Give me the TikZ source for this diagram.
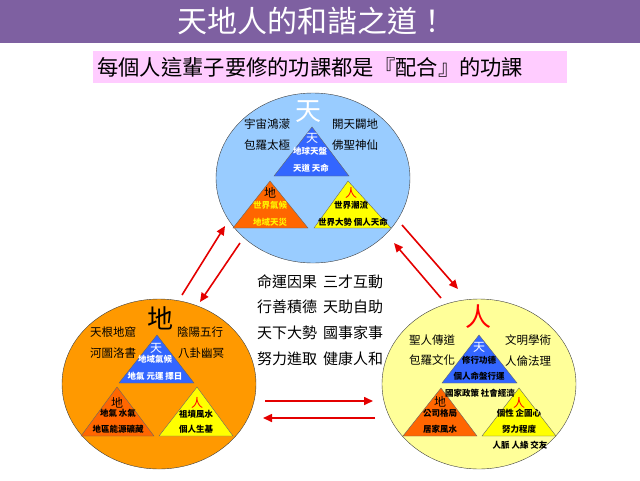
\documentclass[tikz,border=0pt]{standalone}
\usepackage{fontspec}
\setmainfont{Noto Sans CJK TC}
\usetikzlibrary{arrows.meta, shapes.geometric}

\definecolor{titlebar}{RGB}{126,96,161}
\definecolor{subbox}{RGB}{255,204,255}
\definecolor{skyblue}{RGB}{153,204,255}
\definecolor{earthorange}{RGB}{255,153,0}
\definecolor{manyellow}{RGB}{255,255,153}
\definecolor{triblue}{RGB}{51,102,255}
\definecolor{triorange}{RGB}{255,102,0}
\definecolor{triyellow}{RGB}{255,255,0}
\definecolor{arrowred}{RGB}{228,0,0}

\tikzset{
  realm/.style={ellipse, draw=black!75, thin, minimum width=194pt,
    minimum height=170pt, inner sep=0pt},
  tri/.style={draw=black!60, thin},
  bigchar/.style={font=\fontsize{26}{28}\selectfont, inner sep=0pt},
  sidetext/.style={font=\fontsize{11.5}{12}\selectfont, inner sep=0pt},
  trichar/.style={font=\fontsize{12}{12}\selectfont, inner sep=0pt},
  tritext/.style={font=\bfseries\fontsize{8.5}{9}\selectfont, inner sep=0pt},
  centertext/.style={font=\fontsize{15}{16}\selectfont, inner sep=0pt},
  pairarrow/.style={draw=arrowred, line width=1.6pt,
    -{Triangle[length=9pt,width=8pt]}},
}

\begin{document}
\begin{tikzpicture}[x=1pt,y=-1pt]
\useasboundingbox (0,0) rectangle (640,480);

% Title bar and subtitle
\fill[titlebar] (0,0) rectangle (640,43);
\node[text=white, font=\fontsize{30}{32}\selectfont, inner sep=0pt]
  (title) at (312,21) {天地人的和諧之道！};
\fill[subbox] (93,51) rectangle (567,83);
\node[anchor=west, font=\fontsize{21.3}{22}\selectfont, inner sep=0pt]
  (subtitle) at (97,67) {每個人這輩子要修的功課都是『配合』的功課};

% The three realms
\node[realm, fill=skyblue] (tian) at (313,178) {};
\node[realm, fill=earthorange] (di) at (159,384) {};
\node[realm, fill=manyellow] (ren) at (479,384) {};

% Heaven
\begin{scope}[shift={(tian.center)}]
\node[bigchar, text=white] (tianBig) at (-5,-66) {天};
\node[sidetext] (tianA) at (-46,-54) {宇宙鴻濛};
\node[sidetext] (tianB) at (-46,-33) {包羅太極};
\node[sidetext] (tianC) at (42,-54) {開天闢地};
\node[sidetext] (tianD) at (42,-33) {佛聖神仙};
\filldraw[tri, fill=triblue] (-1,-51) -- (-39,-2) -- (36,-2) -- cycle;
\filldraw[tri, fill=triorange] (-43,3) -- (-80,50) -- (-5,50) -- cycle;
\filldraw[tri, fill=triyellow] (35,3) -- (1,50) -- (78,50) -- cycle;
\node[trichar, text=white] (tianT1) at (-1,-40) {天};
\node[tritext, text=white] (tianT2) at (-3,-27) {地球天盤};
\node[tritext, text=white] (tianT3) at (-2,-10) {天道\ 天命};
\node[trichar] (tianO1) at (-43,15) {地};
\node[tritext, text=yellow] (tianO2) at (-43,27) {世界氣候};
\node[tritext, text=yellow] (tianO3) at (-43,44) {地域天災};
\node[trichar, text=red] (tianY1) at (38,15) {人};
\node[tritext] (tianY2) at (38,27) {世界潮流};
\node[tritext] (tianY3) at (40,44) {世界大勢\ 個人天命};
\end{scope}

% Earth
\begin{scope}[shift={(di.center)}]
\node[bigchar] (diBig) at (1,-66) {地};
\node[sidetext] (diA) at (-46,-52) {天根地窟};
\node[sidetext] (diB) at (-46,-31) {河圖洛書};
\node[sidetext] (diC) at (41,-52) {陰陽五行};
\node[sidetext] (diD) at (42,-31) {八卦幽冥};
\filldraw[tri, fill=triblue] (-2,-49) -- (-40,-1) -- (35,-1) -- cycle;
\filldraw[tri, fill=triorange] (-42,3) -- (-78,52) -- (-5,52) -- cycle;
\filldraw[tri, fill=triyellow] (38,3) -- (0,52) -- (74,52) -- cycle;
\node[trichar, text=white] (diT1) at (-3,-36) {天};
\node[tritext, text=white] (diT2) at (-4,-25) {地域氣候};
\node[tritext, text=white] (diT3) at (-4,-8) {地氣\ 元運\ 擇日};
\node[trichar] (diO1) at (-42,19) {地};
\node[tritext] (diO2) at (-41,29) {地氣\ 水氣};
\node[tritext] (diO3) at (-41,45) {地區能源礦藏};
\node[trichar, text=red] (diY1) at (38,19) {人};
\node[tritext] (diY2) at (37,30) {祖墳風水};
\node[tritext] (diY3) at (37,45) {個人生基};
\end{scope}

% Man
\begin{scope}[shift={(ren.center)}]
\node[bigchar, text=red] (renBig) at (-1,-67) {人};
\node[sidetext] (renA) at (-47,-44) {聖人傳道};
\node[sidetext] (renB) at (-47,-24) {包羅文化};
\node[sidetext] (renC) at (49,-44) {文明學術};
\node[sidetext] (renD) at (49,-23) {人倫法理};
\filldraw[tri, fill=triblue] (0,-49) -- (-37,-1) -- (38,-1) -- cycle;
\filldraw[tri, fill=triorange] (-38,4) -- (-76,52) -- (-2,52) -- cycle;
\filldraw[tri, fill=triyellow] (40,4) -- (3,52) -- (77,52) -- cycle;
\node[trichar, text=white] (renT1) at (0,-37) {天};
\node[tritext] (renT2) at (0,-24) {修行功德};
\node[tritext] (renT3) at (0,-8) {個人命盤行運};
\node[tritext] (renMid) at (1,9) {國家政策\ 社會經濟};
\node[trichar] (renO1) at (-39,18) {地};
\node[tritext] (renO2) at (-39,29) {公司格局};
\node[tritext] (renO3) at (-39,45) {居家風水};
\node[trichar, text=red] (renY1) at (40,19) {人};
\node[tritext] (renY2) at (40,29) {個性\ 企圖心};
\node[tritext] (renY3) at (40,45) {努力程度};
\node[tritext] (renBelow) at (41,61) {人脈\ 人緣\ 交友};
\end{scope}

% Centre sayings
\node[centertext] (sayA) at (287,282) {命運因果};
\node[centertext] (sayB) at (353,282) {三才互動};
\node[centertext] (sayC) at (287,307) {行善積德};
\node[centertext] (sayD) at (353,307) {天助自助};
\node[centertext] (sayE) at (287,333) {天下大勢};
\node[centertext] (sayF) at (353,333) {國事家事};
\node[centertext] (sayG) at (287,359) {努力進取};
\node[centertext] (sayH) at (353,359) {健康人和};

% Arrow ends between the realms
\coordinate (diUp) at (182,295);
\coordinate (tianLeftIn) at (225,226);
\coordinate (tianLeftOut) at (240,243);
\coordinate (diDown) at (200,302);
\coordinate (tianRightOut) at (402,225);
\coordinate (renDown) at (458,289);
\coordinate (renUp) at (441,298);
\coordinate (tianRightIn) at (394,243);
\coordinate (diRightOut) at (265,401);
\coordinate (renLeftIn) at (373,401);
\coordinate (renLeftOut) at (375,418);
\coordinate (diRightIn) at (263,418);

\draw[pairarrow] (diUp) -- (tianLeftIn);
\draw[pairarrow] (tianLeftOut) -- (diDown);
\draw[pairarrow] (tianRightOut) -- (renDown);
\draw[pairarrow] (renUp) -- (tianRightIn);
\draw[pairarrow] (diRightOut) -- (renLeftIn);
\draw[pairarrow] (renLeftOut) -- (diRightIn);
\end{tikzpicture}
\end{document}
